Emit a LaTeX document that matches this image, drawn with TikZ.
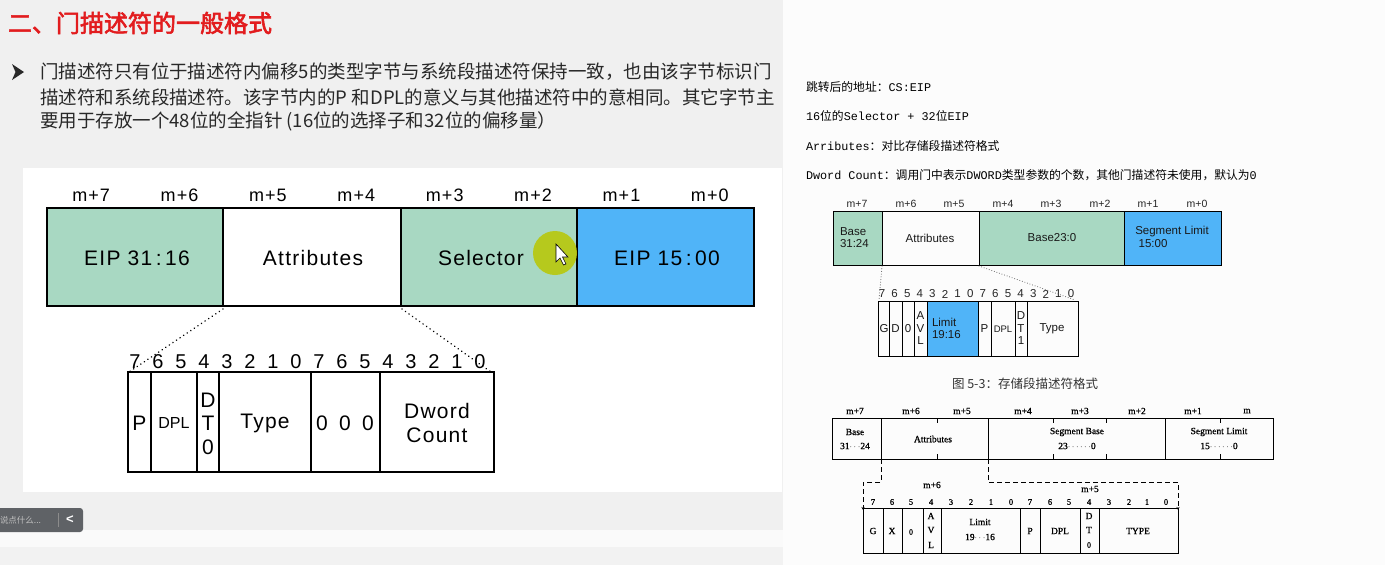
\documentclass[tikz,border=0pt]{standalone}
\usepackage{fontspec}
\setmainfont{Liberation Sans}
\newfontfamily\lsans[LetterSpace=6]{Liberation Sans}
\newfontfamily\cjk{Noto Sans CJK SC}
\newfontfamily\cjkbold[FakeBold=2.5]{Noto Sans CJK SC}
\newfontfamily\monof{Liberation Mono}
\newfontfamily\serifb{Liberation Serif}[FakeBold=1]
\usetikzlibrary{arrows.meta}
\newcommand\fsz[1]{\fontsize{#1}{#1}\selectfont}
\definecolor{gGreen}{RGB}{168,216,194}
\definecolor{gBlue}{RGB}{80,180,248}
\definecolor{titlered}{RGB}{226,28,30}
\definecolor{slidebg}{RGB}{240,240,240}
\definecolor{slidebot}{RGB}{242,242,242}
\definecolor{paratext}{RGB}{40,40,40}
\definecolor{hilite}{RGB}{184,200,16}
\definecolor{barbg}{RGB}{95,98,102}
\tikzset{
  lbox/.style={line width=1.8pt, line join=miter},
  ltop/.style={font=\lsans\fsz{18}},
  lcell/.style={font=\lsans\fsz{21}},
  lbit/.style={font=\fsz{20}},
  para/.style={anchor=west, text=paratext, font=\cjk\fsz{18.5}},
  rtxt/.style={anchor=west, text=black, font=\fsz{11.8}},
  rbox/.style={line width=1pt},
  rtop/.style={font=\fsz{10.5}, text=black!85},
  rcell/.style={font=\fsz{11.5}, text=black!90},
  sbox/.style={line width=0.9pt},
  stxt/.style={font=\serifb\fsz{9.5}},
  dotline/.style={line width=1.6pt, dash pattern=on 0.1pt off 4.2pt, line cap=round},
  rdot/.style={line width=1pt, dash pattern=on 0.1pt off 2.6pt, line cap=round, draw=black!60},
  sdash/.style={line width=0.9pt, dash pattern=on 5pt off 3pt},
}
\begin{document}
\begin{tikzpicture}[x=1pt,y=-1pt, every node/.style={inner sep=0pt, outer sep=0pt}]
\useasboundingbox (0,0) rectangle (1385,565);
% ---------- backgrounds
\fill[white!99!black] (0,0) rectangle (1385,565);
\fill[slidebg] (0,0) rectangle (783,530);
\fill[white] (23,168) rectangle (782,492);
\fill[white!98!black] (0,530) rectangle (783,547);
\fill[slidebot] (0,547) rectangle (783,565);
% ---------- title and paragraph
\node[anchor=west, text=titlered, font=\cjkbold\fsz{24}] (title) at (8,23) {二、门描述符的一般格式};
\fill[paratext] (12,64) -- (24,72) -- (12,80) -- (15.5,72) -- cycle;
\node[para] (p1) at (40,72) {门描述符只有位于描述符内偏移5的类型字节与系统段描述符保持一致，也由该字节标识门};
\node[para] (p2) at (40,97) {描述符和系统段描述符。该字节内的P 和DPL的意义与其他描述符中的意相同。其它字节主};
\node[para] (p3) at (40,121) {要用于存放一个48位的全指针 (16位的选择子和32位的偏移量）};
% ---------- left big descriptor
\fill[gGreen] (47,208) rectangle (223,306);
\fill[gGreen] (401,208) rectangle (577,306);
\fill[gBlue] (577,208) rectangle (754,306);
\draw[lbox] (47,208) rectangle (754,306);
\foreach \x in {223,401,577} \draw[lbox] (\x,208) -- (\x,306);
\foreach \i/\t in {0/7,1/6,2/5,3/4,4/3,5/2,6/1,7/0}
  \node[ltop] (lt\i) at ({47+88.375*(\i+0.5)},195) {m+\t};
\node[lcell] (eiphi) at (137,258) {EIP 31\,:\,16};
\node[lcell] (attr) at (313,258) {Attributes};
\node[lcell] (sel) at (481,258) {Selector};
\node[lcell] (eiplo) at (667,258) {EIP 15\,:\,00};
\fill[hilite, opacity=0.92] (555,253) circle (22);
\draw[fill=white, line width=0.6pt] (556,244) -- (556,262) -- (560,258) -- (563.5,265) -- (566,264) -- (562.5,257) -- (568,257) -- cycle;
% ---------- left attribute bytes
\draw[lbox] (128,372) rectangle (494,472);
\foreach \x in {151,197,219,311,380} \draw[lbox] (\x,372) -- (\x,472);
\foreach \i/\t in {0/7,1/6,2/5,3/4,4/3,5/2,6/1,7/0,8/7,9/6,10/5,11/4,12/3,13/2,14/1,15/0}
  \node[lbit] (lb\i) at ({135+23*\i},362) {\t};
\node[lcell] (cp) at (139.5,423) {P};
\node[font=\fsz{16}] (cdpl) at (174,423) {DPL};
\node[font=\fsz{21}] (cdt1) at (208,400) {D};
\node[font=\fsz{21}] (cdt2) at (208,423) {T};
\node[font=\fsz{21}] (cdt3) at (208,447) {0};
\node[lcell] (ctype) at (265,423) {Type};
\node[lcell] (cz1) at (322,423) {0};
\node[lcell] (cz2) at (345,423) {0};
\node[lcell] (cz3) at (368,423) {0};
\node[lcell] (cdw1) at (437,411) {Dword};
\node[lcell] (cdw2) at (437,435) {Count};
\coordinate (la1) at (223,309);
\coordinate (la2) at (129,372);
\coordinate (la3) at (402,309);
\coordinate (la4) at (491,372);
\draw[dotline] (la1) -- (la2);
\draw[dotline] (la3) -- (la4);
% ---------- bottom-left comment bar
\fill[barbg, rounded corners=3pt] (-6,508) rectangle (83,532);
\node[anchor=west, text=white!75!black, font=\cjk\fsz{8.5}] (say) at (0,520) {说点什么...};
\draw[white!55!black, line width=0.8pt] (58,513) -- (58,527);
\node[text=white, font=\bfseries\fsz{13}] (chev) at (70,519.5) {<};
% ---------- right text
\node[rtxt] (r1) at (806,87) {{\cjk 跳转后的地址：}{\monof CS:EIP}};
\node[rtxt] (r2) at (806,116) {{\monof 16}{\cjk 位的}{\monof Selector + 32}{\cjk 位}{\monof EIP}};
\node[rtxt] (r3) at (806,146) {{\monof Arributes}{\cjk ：对比存储段描述符格式}};
\node[rtxt] (r4) at (806,175) {{\monof Dword Count}{\cjk ：调用门中表示}{\monof DWORD}{\cjk 类型参数的个数，其他门描述符未使用，默认为}{\monof 0}};
% ---------- right diagram 1
\fill[gGreen] (833,211) rectangle (882,265);
\fill[gGreen] (979,211) rectangle (1124,265);
\fill[gBlue] (1124,211) rectangle (1221,265);
\draw[rbox] (833,211) rectangle (1221,265);
\foreach \x in {882,979,1124} \draw[rbox] (\x,211) -- (\x,265);
\foreach \i/\t/\x in {0/7/857,1/6/906,2/5/954,3/4/1003,4/3/1051,5/2/1100,6/1/1148,7/0/1197}
  \node[rtop] (rt\i) at (\x,204) {m+\t};
\node[rcell, anchor=west] (rb1) at (840,232) {Base};
\node[rcell, anchor=west] (rb2) at (840,244) {31:24};
\node[rcell] (rattr) at (930,238) {Attributes};
\node[rcell] (rbase) at (1052,238) {Base23:0};
\node[rcell] (rsl1) at (1172,232) {Segment Limit};
\node[rcell] (rsl2) at (1153,244) {15:00};
\fill[gBlue] (927,301) rectangle (978,356);
\draw[rbox] (878,301) rectangle (1078,356);
\foreach \x in {889,902,914,927,978,991,1015,1027} \draw[rbox] (\x,301) -- (\x,356);
\foreach \i/\t in {0/7,1/6,2/5,3/4,4/3,5/2,6/1,7/0,8/7,9/6,10/5,11/4,12/3,13/2,14/1,15/0}
  \node[rtop, font=\fsz{11.5}] (rb\i) at ({882+12.6*\i},294) {\t};
\node[rcell] (rg) at (884,329) {G};
\node[rcell] (rd) at (895.5,329) {D};
\node[rcell] (r0) at (908,329) {0};
\node[rcell] (ra1) at (920.5,316) {A};
\node[rcell] (ra2) at (920.5,328.5) {V};
\node[rcell] (ra3) at (920.5,341) {L};
\node[rcell, anchor=west] (rl1) at (932,322) {Limit};
\node[rcell, anchor=west] (rl2) at (932,335) {19:16};
\node[rcell] (rp) at (984.5,329) {P};
\node[rcell, font=\fsz{9.5}] (rdpl) at (1003,329) {DPL};
\node[rcell] (rdt1) at (1021,316) {D};
\node[rcell] (rdt2) at (1021,328.5) {T};
\node[rcell] (rdt3) at (1021,341) {1};
\node[rcell] (rtype) at (1052,329) {Type};
\coordinate (rc1) at (882,266);
\coordinate (rc2) at (879,300);
\coordinate (rc3) at (979,266);
\coordinate (rc4) at (1075,300);
\draw[rdot] (rc1) -- (rc2);
\draw[rdot] (rc3) -- (rc4);
% ---------- right caption
\node[font=\cjk\fsz{12.5}, text=black!80] (cap) at (1025,384) {图 5-3：存储段描述符格式};
% ---------- right diagram 2 (scanned)
\draw[sbox] (832,418) rectangle (1273,459);
\foreach \x in {881,988,1165} \draw[sbox] (\x,418) -- (\x,459);
\foreach \x in {937,1053,1106,1220} {\draw[sbox] (\x,418) -- (\x,423); \draw[sbox] (\x,454) -- (\x,459);}
\foreach \i/\t/\x in {0/m+7/855,1/m+6/911,2/m+5/962,3/m+4/1023,4/m+3/1080,5/m+2/1137,6/m+1/1193,7/m/1247}
  \node[stxt] (st\i) at (\x,411) {\t};
\node[stxt] (sb1) at (855,432) {Base};
\node[stxt] (sb2) at (855,446) {31$\cdots$24};
\node[stxt] (sattr) at (933,439) {Attributes};
\node[stxt] (ssb1) at (1077,432) {Segment Base};
\node[stxt] (ssb2) at (1077,446) {23$\cdots\cdots$0};
\node[stxt] (ssl1) at (1219,432) {Segment Limit};
\node[stxt] (ssl2) at (1219,446) {15$\cdots\cdots$0};
\draw[sbox] (863,508) rectangle (1178,553);
\foreach \x in {883,902,923,941,1020,1040,1080,1099} \draw[sbox] (\x,508) -- (\x,553);
\foreach \i/\t/\x in {0/7/873,1/6/892,2/5/911,3/4/931,4/3/951,5/2/971,6/1/991,7/0/1011,8/7/1030,9/6/1050,10/5/1069,11/4/1089,12/3/1109,13/2/1129,14/1/1147,15/0/1166}
  \node[stxt, font=\serifb\fsz{8.5}] (sbit\i) at (\x,502) {\t};
\node[stxt] (sm6) at (932,485) {m+6};
\node[stxt] (sm5) at (1090,489) {m+5};
\node[stxt] (sg) at (873,531) {G};
\node[stxt] (sx) at (892,531) {X};
\node[stxt, font=\serifb\fsz{8}] (s0) at (911,532) {0};
\node[stxt] (sa1) at (931,516) {A};
\node[stxt] (sa2) at (931,530) {V};
\node[stxt] (sa3) at (931,545) {L};
\node[stxt] (sl1) at (980,522) {Limit};
\node[stxt] (sl2) at (980,537) {19$\cdots$16};
\node[stxt] (sp) at (1030,531) {P};
\node[stxt] (sdpl) at (1060,531) {DPL};
\node[stxt] (sdt1) at (1089,516) {D};
\node[stxt] (sdt2) at (1089,530) {T};
\node[stxt, font=\serifb\fsz{8}] (sdt3) at (1089,545) {0};
\node[stxt] (stype) at (1138,531) {TYPE};
\coordinate (sd1) at (881,459);
\coordinate (sd2) at (863,508);
\coordinate (sd3) at (988,459);
\coordinate (sd4) at (1178,508);
\draw[sdash, -{Stealth[length=3pt,width=3pt]}] (sd1) |- (863,482) -- ([yshift=-2pt]sd2);
\draw[sdash, -{Stealth[length=3pt,width=3pt]}] (sd3) |- (1178,482) -- ([yshift=-2pt]sd4);
\end{tikzpicture}
\end{document}
